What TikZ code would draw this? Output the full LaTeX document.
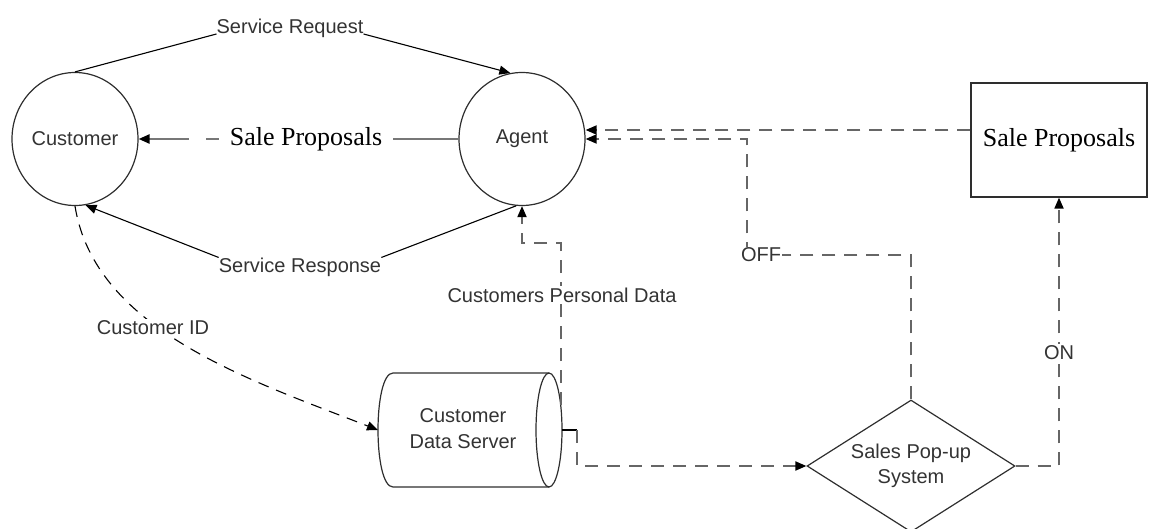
\documentclass[tikz,border=0pt]{standalone}
\usepackage{fontspec}
\setmainfont{Liberation Sans}
\newfontfamily\serifface{Liberation Serif}
\usetikzlibrary{arrows.meta,shapes.geometric,calc}

\definecolor{inkline}{HTML}{2E2E2E}
\definecolor{dashgray}{HTML}{666666}
\definecolor{midgray}{HTML}{777777}
\definecolor{textgray}{HTML}{333333}

\begin{document}
\begin{tikzpicture}[x=1pt,y=-1pt,
  font=\fontsize{20}{24}\selectfont,
  every node/.style={text=textgray},
  tip/.style={-{Triangle[length=11pt,width=9pt,color=black]}},
  process/.style={ellipse, draw=inkline, line width=1.2pt,
    minimum width=126pt, minimum height=133pt, inner sep=0pt},
  flow/.style={draw=black, line width=1.1pt},
  gdash/.style={draw=dashgray, line width=1.8pt, dash pattern=on 13pt off 9pt},
  lbl/.style={fill=white, inner sep=1.5pt},
  serif/.style={font=\serifface\fontsize{26}{30}\selectfont, text=black},
]
\useasboundingbox (0,0) rectangle (1150,529);
\clip (0,0) rectangle (1150,529);

% processes
\node[process] (customer) at (75,139) {Customer};
\node[process] (agent) at (522,139) {Agent};

% proposal store
\node[draw=inkline, line width=1.2pt, minimum width=176pt, minimum height=114pt,
      serif] (box) at (1059,140) {Sale Proposals};

% decision
\node[diamond, draw=inkline, line width=1.2pt, aspect=1.576, inner sep=0pt,
      minimum width=208pt, minimum height=132pt, align=center,
      font=\fontsize{20}{25}\selectfont] (pop) at (911,466) {Sales Pop-up\\System};

% data server (horizontal cylinder)
\draw[draw=inkline, line width=1.2pt] (549,373) -- (393,373)
  .. controls (373,373) and (373,487) .. (393,487) -- (549,487);
\draw[draw=inkline, line width=1.2pt] (549,430) ellipse [x radius=13pt, y radius=57pt];
\node[align=center, font=\fontsize{20}{26}\selectfont] (server) at (463,429) {Customer\\Data Server};
\coordinate (serverL) at (378,430);
\coordinate (serverR) at (562,430);
\coordinate (serverTop) at (561,405);

% service request / response
\node[inner sep=0pt, anchor=base] (req) at (290,34) {Service Request};
\draw[flow] (customer.north) -- (req.base west);
\draw[flow, tip] (req.base east) -- (agent.100);

\node[inner sep=0pt] (resp) at (300,267) {Service Response};
\draw[flow] (agent.265) -- (resp.north east);
\draw[flow, tip] (resp.north west) -- (customer.-81);

% sale proposals handed to the customer
\node[serif, inner xsep=11pt, inner ysep=0pt] (offer) at (306,139) {Sale Proposals};
\draw[draw=midgray, line width=2.4pt] (agent.west) -- (offer.east);
\draw[draw=midgray, line width=2.4pt, dash pattern=on 13pt off 17pt on 300pt off 1pt, tip]
  (offer.west) -- (customer.east);

% customer id lookup
\draw[black, line width=1.1pt, dash pattern=on 11pt off 8pt, tip]
  (customer.south) .. controls (95,330) and (250,380) .. (serverL);

% personal data to the agent
\draw[gdash, tip] (serverTop) -- ++(0,-162) -| (agent.south);

% server to pop-up system
\draw[black, line width=1.1pt] (serverR) -- ++(15,0) coordinate (tick);
\draw[gdash, tip] (tick) |- (pop.west);

% ON branch
\draw[gdash, tip] (pop.east) -| (box.south);

% OFF branch
\coordinate (offbend) at (747,255);
\draw[gdash, tip] (pop.north) |- (offbend) |- (agent.east);

% proposals store to agent
\coordinate (boxport) at ($(box.west)+(0,-10)$);
\draw[gdash, tip] (boxport) -- (agent.east |- boxport);

% connector labels
\node[lbl] (cid) at (153,328) {Customer ID};
\node[lbl] (pdata) at (562,295) {Customers Personal Data};
\node[lbl, inner sep=1pt] (off) at (761,255) {OFF};
\node[lbl] (on) at (1059,353) {ON};
\end{tikzpicture}
\end{document}
